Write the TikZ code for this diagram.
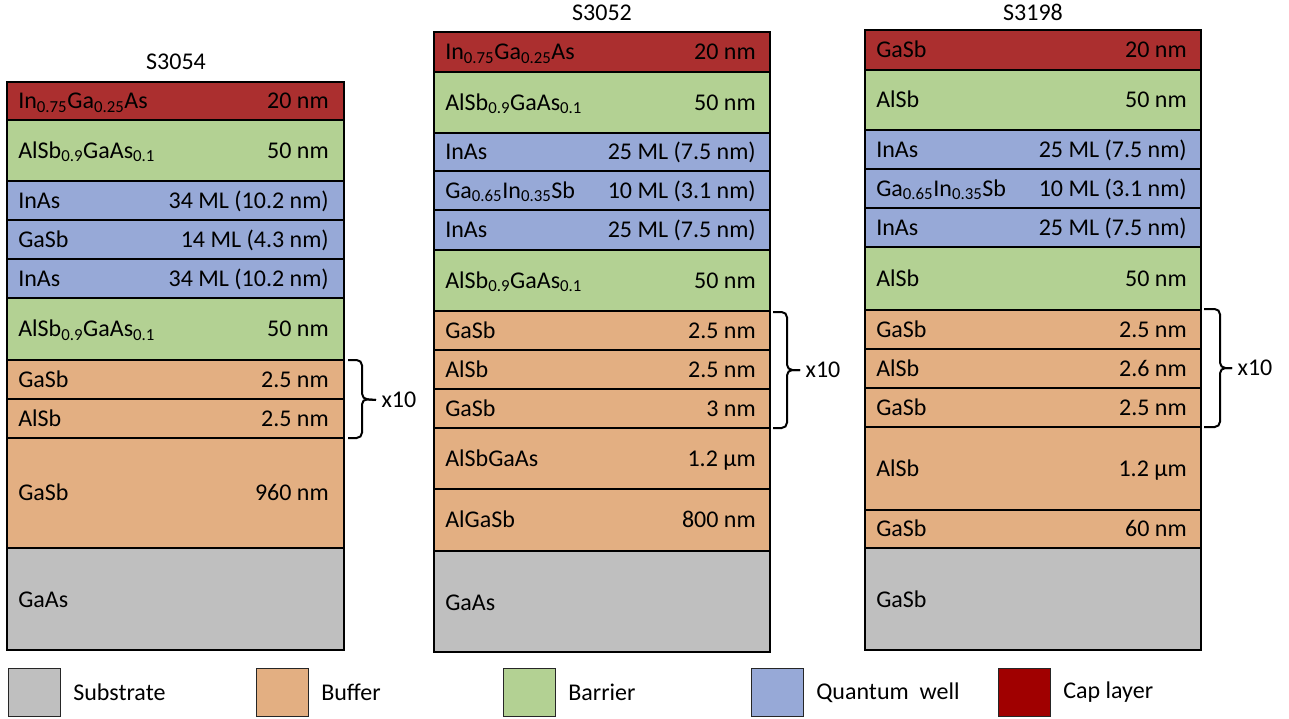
\documentclass[tikz,border=0pt]{standalone}
\usepackage{fontspec}
\setmainfont{Carlito}
\usepackage{tikz}
\usetikzlibrary{positioning}

\definecolor{capred}{HTML}{AB2F2F}
\definecolor{capdark}{HTML}{A00000}
\definecolor{barriergreen}{HTML}{B3D193}
\definecolor{wellblue}{HTML}{97A9D7}
\definecolor{bufferorange}{HTML}{E3AF82}
\definecolor{subgray}{HTML}{BFBFBF}

\tikzset{
  layer/.style={draw=black, line width=2pt},
  caplayer/.style={layer, fill=capred},
  barrierlayer/.style={layer, fill=barriergreen},
  welllayer/.style={layer, fill=wellblue},
  bufferlayer/.style={layer, fill=bufferorange},
  sublayer/.style={layer, fill=subgray},
  lbl/.style={inner sep=0pt, font=\fontsize{18}{21}\selectfont, text height=11.5pt, text depth=0pt},
  reps/.style={lbl, anchor=west, inner xsep=4pt},
  title/.style={inner sep=0pt, font=\fontsize{18}{21}\selectfont},
  keybox/.style={draw=black!85, line width=0.8pt, minimum width=39pt, minimum height=36pt, inner sep=0pt, anchor=north west},
  keytext/.style={inner sep=0pt, anchor=west, font=\fontsize{18}{21}\selectfont},
  bracket/.style={line width=1.5pt, rounded corners=4pt}
}

\begin{document}
\begin{tikzpicture}[x=0.75pt, y=-0.75pt]
  \useasboundingbox (0,0) rectangle (1289,718);

  % S3054
  \node[title] (t1) at (176,62) {S3054};
  \foreach \ya/\yb/\kind/\mat/\thk [count=\i] in {
      82/120/caplayer/In\textsubscript{0.75}Ga\textsubscript{0.25}As/20 nm,
      120/181/barrierlayer/AlSb\textsubscript{0.9}GaAs\textsubscript{0.1}/50 nm,
      181/220/welllayer/InAs/34 ML (10.2 nm),
      220/259/welllayer/GaSb/14 ML (4.3 nm),
      259/298/welllayer/InAs/34 ML (10.2 nm),
      298/360/barrierlayer/AlSb\textsubscript{0.9}GaAs\textsubscript{0.1}/50 nm,
      360/399/bufferlayer/GaSb/2.5 nm,
      399/438/bufferlayer/AlSb/2.5 nm,
      438/548/bufferlayer/GaSb/960 nm} {
    \draw[\kind] (7,\ya) rectangle (344,\yb);
    \node[lbl, anchor=west] (a\i) at (18,{(\ya+\yb)/2}) {\mat};
    \node[lbl, anchor=east] (b\i) at (329,{(\ya+\yb)/2}) {\thk};
  }
  \draw[sublayer] (7,548) rectangle (344,650);
  \node[lbl, anchor=west] (a10) at (18,600) {GaAs};
  % x10 bracket
  \node[reps] (n1) at (376,400) {x10};
  \coordinate (u1) at (348,360);
  \coordinate (l1) at (348,438);
  \draw[bracket] (u1) -| (362,399) -- (n1.west);
  \draw[bracket] (n1.west) -- (362,399) |- (l1);

  % S3052
  \node[title] (t2) at (602,13) {S3052};
  \foreach \ya/\yb/\kind/\mat/\thk [count=\i] in {
      32/72/caplayer/In\textsubscript{0.75}Ga\textsubscript{0.25}As/20 nm,
      72/133/barrierlayer/AlSb\textsubscript{0.9}GaAs\textsubscript{0.1}/50 nm,
      133/171/welllayer/InAs/25 ML (7.5 nm),
      171/210/welllayer/Ga\textsubscript{0.65}In\textsubscript{0.35}Sb/10 ML (3.1 nm),
      210/250/welllayer/InAs/25 ML (7.5 nm),
      250/311/barrierlayer/AlSb\textsubscript{0.9}GaAs\textsubscript{0.1}/50 nm,
      311/350/bufferlayer/GaSb/2.5 nm,
      350/389/bufferlayer/AlSb/2.5 nm,
      389/428/bufferlayer/GaSb/3 nm,
      428/489/bufferlayer/AlSbGaAs/1.2 µm,
      489/551/bufferlayer/AlGaSb/800 nm} {
    \draw[\kind] (434,\ya) rectangle (770,\yb);
    \node[lbl, anchor=west] (c\i) at (445,{(\ya+\yb)/2}) {\mat};
    \node[lbl, anchor=east] (d\i) at (756,{(\ya+\yb)/2}) {\thk};
  }
  \draw[sublayer] (434,551) rectangle (770,652);
  \node[lbl, anchor=west] (c12) at (445,603) {GaAs};
  \node[reps] (n2) at (800,370) {x10};
  \coordinate (u2) at (773,312);
  \coordinate (l2) at (773,428);
  \draw[bracket] (u2) -| (787,370) -- (n2.west);
  \draw[bracket] (n2.west) -- (787,370) |- (l2);

  % S3198
  \node[title] (t3) at (1033,12) {S3198};
  \foreach \ya/\yb/\kind/\mat/\thk [count=\i] in {
      30/70/caplayer/GaSb/20 nm,
      70/130/barrierlayer/AlSb/50 nm,
      130/169/welllayer/InAs/25 ML (7.5 nm),
      169/208/welllayer/Ga\textsubscript{0.65}In\textsubscript{0.35}Sb/10 ML (3.1 nm),
      208/247/welllayer/InAs/25 ML (7.5 nm),
      247/310/barrierlayer/AlSb/50 nm,
      310/349/bufferlayer/GaSb/2.5 nm,
      349/388/bufferlayer/AlSb/2.6 nm,
      388/427/bufferlayer/GaSb/2.5 nm,
      427/510/bufferlayer/AlSb/1.2 µm,
      510/548/bufferlayer/GaSb/60 nm} {
    \draw[\kind] (865,\ya) rectangle (1201,\yb);
    \node[lbl, anchor=west] (e\i) at (876,{(\ya+\yb)/2}) {\mat};
    \node[lbl, anchor=east] (f\i) at (1187,{(\ya+\yb)/2}) {\thk};
  }
  \draw[sublayer] (865,548) rectangle (1201,650);
  \node[lbl, anchor=west] (e12) at (876,600) {GaSb};
  \node[reps] (n3) at (1232,368) {x10};
  \coordinate (u3) at (1204,309);
  \coordinate (l3) at (1204,427);
  \draw[bracket] (u3) -| (1220,368) -- (n3.west);
  \draw[bracket] (n3.west) -- (1220,368) |- (l3);

  % legend
  \node[keybox, fill=subgray] (k1) at (8,668) {};
  \node[keytext, right=9pt of k1] (k1t) {Substrate};
  \node[keybox, fill=bufferorange] (k2) at (256,668) {};
  \node[keytext, right=9pt of k2] (k2t) {Buffer};
  \node[keybox, fill=barriergreen] (k3) at (503,668) {};
  \node[keytext, right=9pt of k3] (k3t) {Barrier};
  \node[keybox, fill=wellblue] (k4) at (751,668) {};
  \node[keytext, right=9pt of k4] (k4t) {Quantum\ \ well};
  \node[keybox, fill=capdark] (k5) at (998,668) {};
  \node[keytext, right=9pt of k5] (k5t) {Cap layer};
\end{tikzpicture}
\end{document}
